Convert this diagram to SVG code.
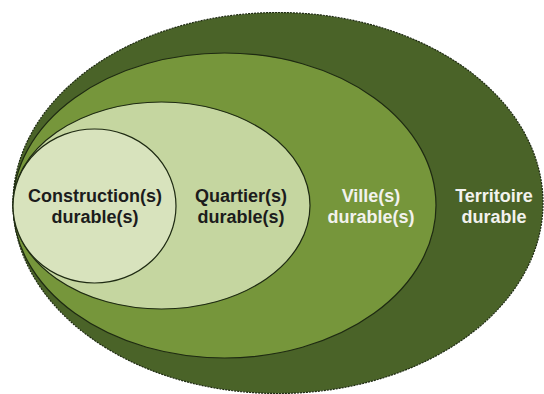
<svg xmlns="http://www.w3.org/2000/svg" width="544" height="394" viewBox="0 0 544 394">
<style>
.e{stroke:#1e2a12;stroke-width:1.2}
.t{font-family:"Liberation Sans",Arial,sans-serif;font-weight:bold;font-size:18px;text-anchor:middle}
.dk{fill:#1c1c1c}
.lt{fill:#f2f2ee}
</style>
<rect x="0" y="0" width="544" height="394" fill="#ffffff"/>
<g id="territoire">
<ellipse class="e" cx="278" cy="203" rx="265" ry="190.5" fill="#4a6328" stroke-dasharray="2 1"/>
<text class="t lt" x="494" y="202">Territoire</text>
<text class="t lt" x="494" y="223">durable</text>
</g>
<g id="ville">
<ellipse class="e" cx="224.5" cy="205.5" rx="211.5" ry="152.5" fill="#76963b"/>
<text class="t lt" x="371" y="202">Ville(s)</text>
<text class="t lt" x="371" y="223">durable(s)</text>
</g>
<g id="quartier">
<ellipse class="e" cx="161.5" cy="205.5" rx="148.5" ry="103.5" fill="#c5d6a0"/>
<text class="t dk" x="241" y="202">Quartier(s)</text>
<text class="t dk" x="241" y="223">durable(s)</text>
</g>
<g id="construction">
<ellipse class="e" cx="94.5" cy="206" rx="81.5" ry="77" fill="#d8e3bd"/>
<text class="t dk" x="95" y="202">Construction(s)</text>
<text class="t dk" x="95" y="223">durable(s)</text>
</g>
<g id="connectors"/>
</svg>
